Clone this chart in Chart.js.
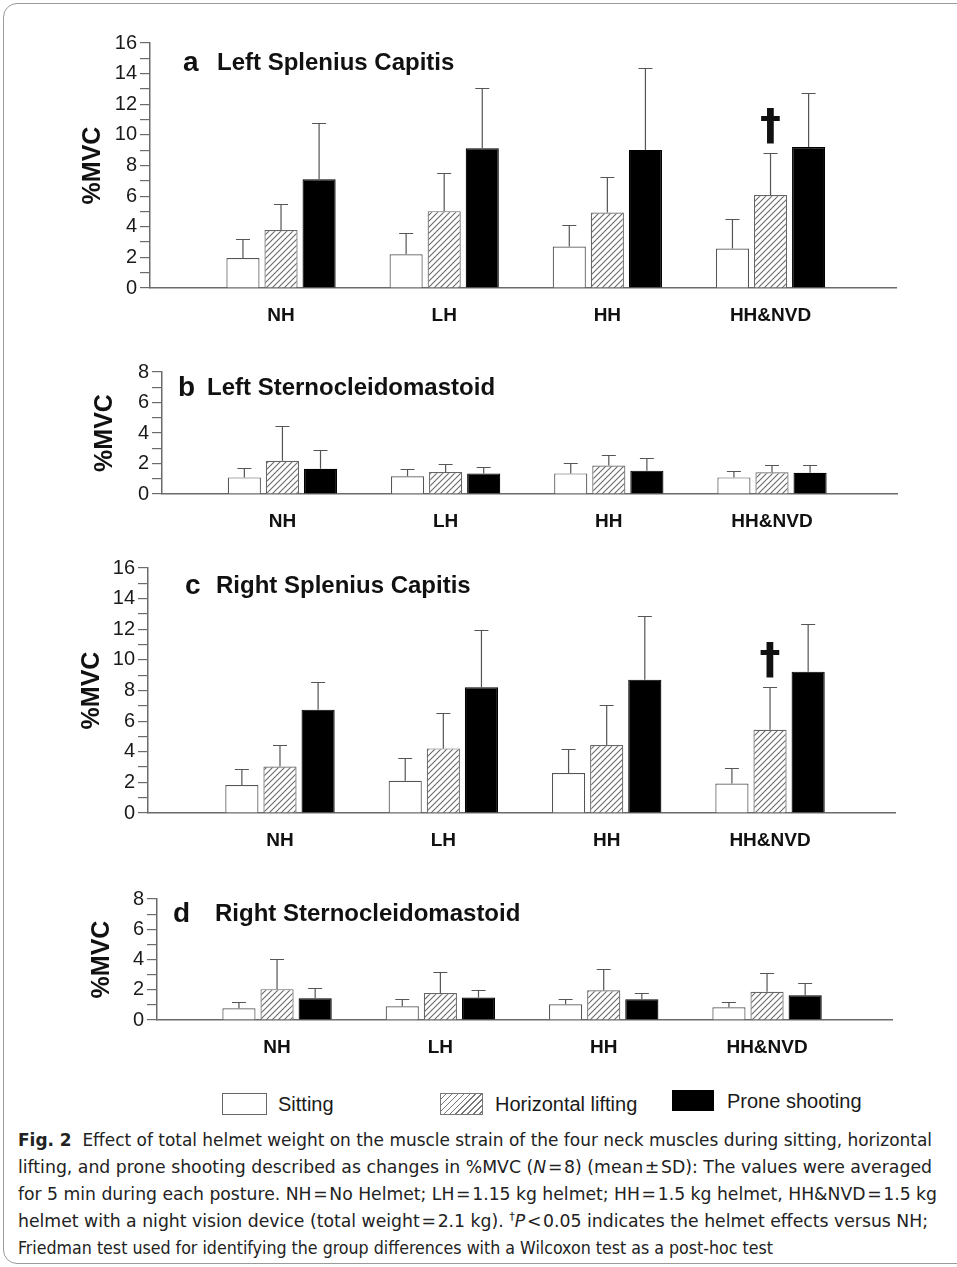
<!DOCTYPE html>
<html lang="en">
<head>
<meta charset="UTF-8">
<title>Fig. 2 | %MVC by helmet weight</title>
<script src="https://cdn.jsdelivr.net/npm/chart.js"></script>
<style>
    html, body { margin: 0; padding: 0; background: #fff; }
    body { width: 957px; height: 1267px; position: relative; overflow: hidden;
           font-family: "Liberation Sans", Arial, sans-serif; color: #1a1a1a; }
    .frame { position: absolute; left: 3px; top: 3px; width: 1000px; height: 1259px;
             border: 1px solid #9a9a9a; border-radius: 14px; }
    canvas.panel { position: absolute; left: 0; }
    .ptitle { position: absolute; font-weight: bold; font-size: 24px; line-height: 30px; white-space: nowrap; color: #111; }
    .pletter { position: absolute; font-weight: bold; font-size: 28px; line-height: 30px; color: #111; }
    .swatch { position: absolute; box-sizing: border-box; }
    .ltext { position: absolute; font-size: 20px; line-height: 24px; white-space: nowrap; color: #1a1a1a; }
    .cap-line { position: absolute; left: 18px; font-family: "Liberation Sans Narrow", "DejaVu Sans Condensed", "Liberation Sans", sans-serif;
                font-size: 17px; line-height: 27px; white-space: nowrap; transform-origin: 0 50%; color: #222; }
    .cap-line b { font-weight: bold; }
    sup { font-size: 11px; line-height: 0; }
</style>
</head>
<body>
<div class="frame"></div>

<canvas class="panel" id="panelA"></canvas>
<canvas class="panel" id="panelB"></canvas>
<canvas class="panel" id="panelC"></canvas>
<canvas class="panel" id="panelD"></canvas>

<div class="pletter" style="left:183px; top:47px;">a</div>
<div class="ptitle" style="left:217px; top:47px;">Left Splenius Capitis</div>
<div class="pletter" style="left:178px; top:372px;">b</div>
<div class="ptitle" style="left:207px; top:372px;">Left Sternocleidomastoid</div>
<div class="pletter" style="left:185px; top:570px;">c</div>
<div class="ptitle" style="left:216px; top:570px;">Right Splenius Capitis</div>
<div class="pletter" style="left:173px; top:898px;">d</div>
<div class="ptitle" style="left:215px; top:898px;">Right Sternocleidomastoid</div>

<!-- legend -->
<div class="swatch" style="left:222px; top:1093px; width:45px; height:22px; border:1px solid #666; background:#fff;"></div>
<div class="ltext" style="left:278px; top:1092px;">Sitting</div>
<div class="swatch" style="left:440px; top:1093px; width:43px; height:22px; border:1px solid #777;
     background: repeating-linear-gradient(135deg, #fff 0 3px, #777 3px 4.2px);"></div>
<div class="ltext" style="left:495px; top:1092px;">Horizontal lifting</div>
<div class="swatch" style="left:672px; top:1090px; width:42px; height:21px; background:#000;"></div>
<div class="ltext" style="left:727px; top:1089px;">Prone shooting</div>

<!-- caption -->
<div class="cap-line" data-w="914" style="top:1127px;"><b>Fig. 2</b>&nbsp; Effect of total helmet weight on the muscle strain of the four neck muscles during sitting, horizontal</div>
<div class="cap-line" data-w="914" style="top:1154px;">lifting, and prone shooting described as changes in %MVC (<i>N</i>&#8202;=&#8202;8) (mean&#8202;±&#8202;SD): The values were averaged</div>
<div class="cap-line" data-w="919" style="top:1181px;">for 5 min during each posture. NH&#8202;=&#8202;No Helmet; LH&#8202;=&#8202;1.15 kg helmet; HH&#8202;=&#8202;1.5 kg helmet, HH&amp;NVD&#8202;=&#8202;1.5 kg</div>
<div class="cap-line" data-w="910" style="top:1208px;">helmet with a night vision device (total weight&#8202;=&#8202;2.1 kg). <sup>†</sup><i>P</i>&#8202;&lt;&#8202;0.05 indicates the helmet effects versus NH;</div>
<div class="cap-line" data-w="755" style="top:1235px;">Friedman test used for identifying the group differences with a Wilcoxon test as a post-hoc test</div>

<script>
    const categories = ['NH', 'LH', 'HH', 'HH&NVD'];
    const postures = ['Sitting', 'Horizontal lifting', 'Prone shooting'];

    // a - Left Splenius Capitis (mean, SD)
    const aSitting = [1.96, 2.20, 2.71, 2.58];
    const aSittingSD = [1.27, 1.36, 1.39, 1.90];
    const aLifting = [3.78, 5.02, 4.93, 6.07];
    const aLiftingSD = [1.70, 2.47, 2.32, 2.77];
    const aProne = [7.10, 9.13, 9.02, 9.21];
    const aProneSD = [3.66, 3.95, 5.35, 3.52];

    // b - Left Sternocleidomastoid
    const bSitting = [1.09, 1.16, 1.35, 1.09];
    const bSittingSD = [0.59, 0.50, 0.70, 0.39];
    const bLifting = [2.18, 1.44, 1.87, 1.42];
    const bLiftingSD = [2.27, 0.56, 0.72, 0.45];
    const bProne = [1.66, 1.35, 1.53, 1.39];
    const bProneSD = [1.22, 0.44, 0.82, 0.53];

    // c - Right Splenius Capitis
    const cSitting = [1.83, 2.11, 2.61, 1.92];
    const cSittingSD = [1.07, 1.46, 1.59, 1.02];
    const cLifting = [3.03, 4.22, 4.44, 5.44];
    const cLiftingSD = [1.43, 2.31, 2.61, 2.79];
    const cProne = [6.75, 8.21, 8.71, 9.23];
    const cProneSD = [1.78, 3.72, 4.18, 3.13];

    // d - Right Sternocleidomastoid
    const dSitting = [0.78, 0.91, 1.04, 0.84];
    const dSittingSD = [0.38, 0.45, 0.32, 0.36];
    const dLifting = [2.04, 1.78, 1.96, 1.87];
    const dLiftingSD = [2.00, 1.42, 1.42, 1.24];
    const dProne = [1.44, 1.49, 1.38, 1.64];
    const dProneSD = [0.65, 0.51, 0.38, 0.78];

    const yTicksBig = [0, 2, 4, 6, 8, 10, 12, 14, 16];
    const yTicksSmall = [0, 2, 4, 6, 8];

    // hatch pattern for the horizontal lifting bars
    function hatchPattern() {
        const c = document.createElement('canvas');
        c.width = 6; c.height = 6;
        const g = c.getContext('2d');
        g.fillStyle = '#fff';
        g.fillRect(0, 0, 6, 6);
        g.strokeStyle = '#6a6a6a';
        g.lineWidth = 1.1;
        g.beginPath();
        g.moveTo(0, 6); g.lineTo(6, 0);
        g.moveTo(-1, 1); g.lineTo(1, -1);
        g.moveTo(5, 7); g.lineTo(7, 5);
        g.stroke();
        return g.createPattern(c, 'repeat');
    }
    const hatch = hatchPattern();

    const errorBars = {
        id: 'errorBars',
        afterDatasetsDraw(chart) {
            const ctx = chart.ctx;
            const y = chart.scales.y;
            ctx.save();
            ctx.strokeStyle = '#555';
            ctx.lineWidth = 1.2;
            chart.data.datasets.forEach((ds, di) => {
                chart.getDatasetMeta(di).data.forEach((bar, i) => {
                    const top = Math.round(y.getPixelForValue(ds.data[i].y + ds.sd[i])) + 0.5;
                    ctx.beginPath();
                    ctx.moveTo(bar.x, bar.y);
                    ctx.lineTo(bar.x, top);
                    ctx.moveTo(bar.x - 7, top);
                    ctx.lineTo(bar.x + 7, top);
                    ctx.stroke();
                });
            });
            ctx.restore();
        }
    };

    const daggerMark = {
        id: 'daggerMark',
        afterDatasetsDraw(chart, args, opts) {
            if (opts.dataset == null) return;
            const ctx = chart.ctx;
            const ds = chart.data.datasets[opts.dataset];
            const bar = chart.getDatasetMeta(opts.dataset).data[opts.index];
            const top = chart.scales.y.getPixelForValue(ds.data[opts.index].y + ds.sd[opts.index]);
            ctx.save();
            ctx.font = 'bold 42px "DejaVu Sans"';
            ctx.fillStyle = '#111';
            ctx.textAlign = 'center';
            ctx.textBaseline = 'alphabetic';
            const m = ctx.measureText('\u2020');
            ctx.fillText('\u2020', bar.x, top - 9 - m.actualBoundingBoxDescent);
            ctx.restore();
        }
    };

    function plotarPainel(id, series, layout, dagger) {
        const canvas = document.getElementById(id);
        const h = layout.padTop + layout.plotH + 50;
        canvas.width = 957;
        canvas.height = h;
        canvas.style.top = layout.top + 'px';

        const fills = ['#fff', hatch, '#000'];
        const borders = ['#555', '#666', '#000'];

        const datasets = series.map((s, k) => ({
            label: postures[k],
            data: s.mean.map((v, i) => ({ x: i, y: v })),
            sd: s.sd,
            backgroundColor: fills[k],
            borderColor: borders[k],
            borderWidth: 1.2,
            categoryPercentage: 0.7,
            barPercentage: 0.87
        }));

        const config = {
            type: 'bar',
            data: { datasets: datasets },
            options: {
                responsive: false,
                animation: false,
                events: [],
                layout: { padding: { left: 0, right: 957 - layout.axisRight, top: layout.padTop, bottom: 0 } },
                plugins: {
                    legend: { display: false },
                    tooltip: { enabled: false },
                    daggerMark: dagger || {}
                },
                scales: {
                    x: {
                        type: 'linear',
                        offset: false,
                        min: layout.xMin,
                        max: layout.xMax,
                        afterBuildTicks: (axis) => { axis.ticks = categories.map((c, i) => ({ value: i })); },
                        afterFit: (axis) => { axis.height = 50; },
                        grid: { display: false, drawTicks: false, offset: false },
                        border: { display: true, color: '#6b6b6b', width: 1.5 },
                        ticks: {
                            autoSkip: false,
                            maxRotation: 0,
                            padding: 16,
                            color: '#111',
                            font: { family: 'Liberation Sans', size: 19, weight: 'bold' },
                            callback: (v) => categories[v]
                        }
                    },
                    y: {
                        min: 0,
                        max: layout.yTicks[layout.yTicks.length - 1],
                        afterFit: (axis) => { axis.width = layout.axisLeft; },
                        grid: { drawOnChartArea: false, drawTicks: true, tickLength: 10, color: '#6b6b6b', lineWidth: 1.2 },
                        border: { color: '#6b6b6b', width: 1.5 },
                        ticks: {
                            stepSize: 1,
                            autoSkip: false,
                            padding: 3,
                            color: '#1a1a1a',
                            font: { family: 'Liberation Sans', size: 20 },
                            callback: (v) => layout.yTicks.includes(v) ? v : ''
                        },
                        title: {
                            display: true,
                            text: '%MVC',
                            color: '#111',
                            font: { family: 'Liberation Sans', size: 25, weight: 'bold' },
                            padding: { top: layout.titlePad, bottom: 0 }
                        }
                    }
                }
            },
            plugins: [errorBars, daggerMark]
        };

        return new Chart(canvas, config);
    }

    plotarPainel('panelA', [
        { mean: aSitting, sd: aSittingSD },
        { mean: aLifting, sd: aLiftingSD },
        { mean: aProne, sd: aProneSD }
    ], { top: 20, padTop: 23, plotH: 245, axisLeft: 150, axisRight: 896, xMin: -0.803, xMax: 3.769, yTicks: yTicksBig, titlePad: 78 },
       { dataset: 1, index: 3 });

    plotarPainel('panelB', [
        { mean: bSitting, sd: bSittingSD },
        { mean: bLifting, sd: bLiftingSD },
        { mean: bProne, sd: bProneSD }
    ], { top: 352, padTop: 20, plotH: 122, axisLeft: 162, axisRight: 897, xMin: -0.738, xMax: 3.766, yTicks: yTicksSmall, titlePad: 90 });

    plotarPainel('panelC', [
        { mean: cSitting, sd: cSittingSD },
        { mean: cLifting, sd: cLiftingSD },
        { mean: cProne, sd: cProneSD }
    ], { top: 548, padTop: 20, plotH: 245, axisLeft: 148, axisRight: 895, xMin: -0.808, xMax: 3.765, yTicks: yTicksBig, titlePad: 77 },
       { dataset: 1, index: 3 });

    plotarPainel('panelD', [
        { mean: dSitting, sd: dSittingSD },
        { mean: dLifting, sd: dLiftingSD },
        { mean: dProne, sd: dProneSD }
    ], { top: 878, padTop: 21, plotH: 121, axisLeft: 157, axisRight: 892, xMin: -0.735, xMax: 3.765, yTicks: yTicksSmall, titlePad: 87 });

    // squeeze each caption line to the width it has in the figure
    document.querySelectorAll('.cap-line').forEach((el) => {
        const w = el.getBoundingClientRect().width;
        el.style.transform = 'scaleX(' + (Number(el.dataset.w) / w) + ')';
    });
</script>
</body>
</html>
